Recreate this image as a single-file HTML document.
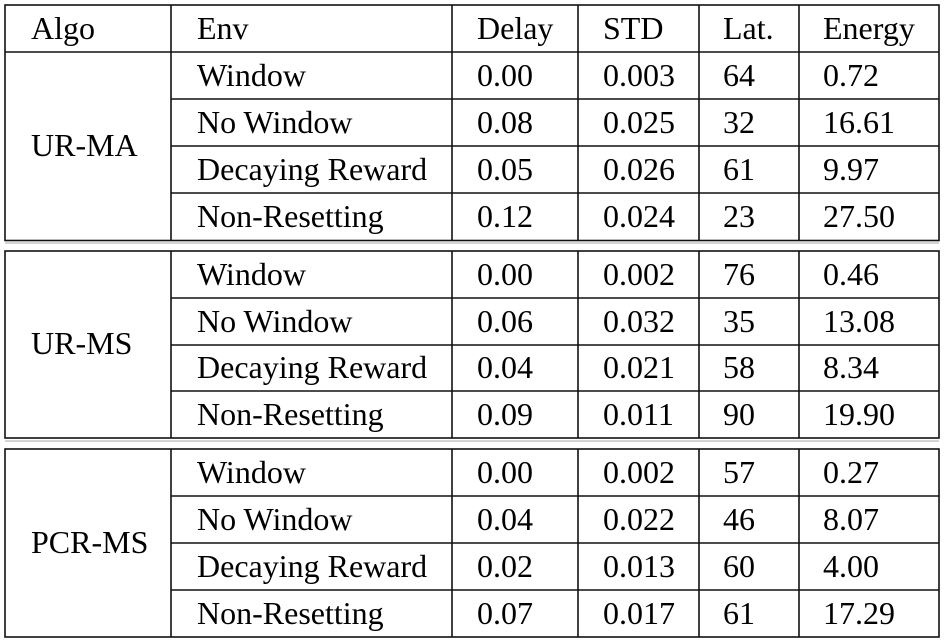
<!DOCTYPE html>
<html><head><style>
html,body{margin:0;padding:0;background:#fff;}
svg{display:block;}
text{font-family:"Liberation Serif",serif;font-size:32px;fill:#000;}
</style></head><body>
<svg width="944" height="641" viewBox="0 0 944 641">
<g stroke="#111" stroke-width="1.6" fill="none">
<rect x="5" y="5" width="934" height="235.5"/>
<line x1="5" y1="52" x2="939" y2="52"/>
<line x1="171" y1="5" x2="171" y2="240.5"/>
<line x1="452" y1="5" x2="452" y2="240.5"/>
<line x1="578" y1="5" x2="578" y2="240.5"/>
<line x1="699" y1="5" x2="699" y2="240.5"/>
<line x1="799" y1="5" x2="799" y2="240.5"/>
<line x1="171" y1="99" x2="939" y2="99"/>
<line x1="171" y1="146" x2="939" y2="146"/>
<line x1="171" y1="193" x2="939" y2="193"/>

<rect x="5" y="251" width="934" height="187"/>
<line x1="171" y1="251" x2="171" y2="438"/>
<line x1="452" y1="251" x2="452" y2="438"/>
<line x1="578" y1="251" x2="578" y2="438"/>
<line x1="699" y1="251" x2="699" y2="438"/>
<line x1="799" y1="251" x2="799" y2="438"/>
<line x1="171" y1="298" x2="939" y2="298"/>
<line x1="171" y1="345" x2="939" y2="345"/>
<line x1="171" y1="391" x2="939" y2="391"/>

<rect x="5" y="449" width="934" height="188"/>
<line x1="171" y1="449" x2="171" y2="637"/>
<line x1="452" y1="449" x2="452" y2="637"/>
<line x1="578" y1="449" x2="578" y2="637"/>
<line x1="699" y1="449" x2="699" y2="637"/>
<line x1="799" y1="449" x2="799" y2="637"/>
<line x1="171" y1="496" x2="939" y2="496"/>
<line x1="171" y1="543" x2="939" y2="543"/>
<line x1="171" y1="590" x2="939" y2="590"/>
</g>
<g stroke="#aaa" stroke-width="1" fill="none">
<line x1="5" y1="243" x2="939" y2="243"/>
<line x1="5" y1="441" x2="939" y2="441"/>
</g>

<text x="31" y="39">Algo</text><text x="197" y="39">Env</text><text x="477" y="39">Delay</text><text x="603" y="39">STD</text><text x="723" y="39">Lat.</text><text x="823" y="39">Energy</text>

<text x="31" y="156">UR-MA</text>
<text x="197" y="86">Window</text><text x="477" y="86">0.00</text><text x="603" y="86">0.003</text><text x="723" y="86">64</text><text x="823" y="86">0.72</text>
<text x="197" y="133">No Window</text><text x="477" y="133">0.08</text><text x="603" y="133">0.025</text><text x="723" y="133">32</text><text x="823" y="133">16.61</text>
<text x="197" y="180">Decaying Reward</text><text x="477" y="180">0.05</text><text x="603" y="180">0.026</text><text x="723" y="180">61</text><text x="823" y="180">9.97</text>
<text x="197" y="227">Non-Resetting</text><text x="477" y="227">0.12</text><text x="603" y="227">0.024</text><text x="723" y="227">23</text><text x="823" y="227">27.50</text>

<text x="31" y="354">UR-MS</text>
<text x="197" y="285">Window</text><text x="477" y="285">0.00</text><text x="603" y="285">0.002</text><text x="723" y="285">76</text><text x="823" y="285">0.46</text>
<text x="197" y="332">No Window</text><text x="477" y="332">0.06</text><text x="603" y="332">0.032</text><text x="723" y="332">35</text><text x="823" y="332">13.08</text>
<text x="197" y="378">Decaying Reward</text><text x="477" y="378">0.04</text><text x="603" y="378">0.021</text><text x="723" y="378">58</text><text x="823" y="378">8.34</text>
<text x="197" y="425">Non-Resetting</text><text x="477" y="425">0.09</text><text x="603" y="425">0.011</text><text x="723" y="425">90</text><text x="823" y="425">19.90</text>

<text x="31" y="553">PCR-MS</text>
<text x="197" y="483">Window</text><text x="477" y="483">0.00</text><text x="603" y="483">0.002</text><text x="723" y="483">57</text><text x="823" y="483">0.27</text>
<text x="197" y="530">No Window</text><text x="477" y="530">0.04</text><text x="603" y="530">0.022</text><text x="723" y="530">46</text><text x="823" y="530">8.07</text>
<text x="197" y="577">Decaying Reward</text><text x="477" y="577">0.02</text><text x="603" y="577">0.013</text><text x="723" y="577">60</text><text x="823" y="577">4.00</text>
<text x="197" y="624">Non-Resetting</text><text x="477" y="624">0.07</text><text x="603" y="624">0.017</text><text x="723" y="624">61</text><text x="823" y="624">17.29</text>
</svg>
</body></html>
